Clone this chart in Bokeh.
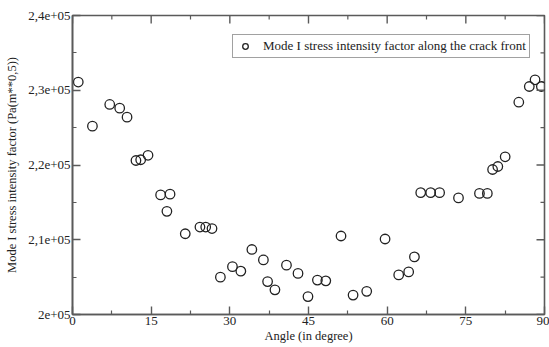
import math
from bokeh.plotting import figure
from bokeh.models import FixedTicker, Range1d, Legend, LegendItem, ColumnDataSource
from bokeh.embed import file_html
from bokeh.resources import INLINE

# Data
angle = [1.1, 3.8, 7.1, 9.0, 10.4, 12.1, 13.0, 14.4,
         16.8, 18.0, 18.6, 21.5, 24.3, 25.4, 26.6, 28.2, 30.5, 32.1, 34.2, 36.4, 37.2, 38.6, 40.8, 43.0, 44.9,
         46.7, 48.3, 51.2, 53.5, 56.1, 59.6, 62.2, 64.1, 65.2, 66.4, 68.3, 70.0, 73.6,
         77.6, 79.1, 80.1, 81.1, 82.5, 85.1, 87.1, 88.2, 89.4]
sif = [231100, 225200, 228100, 227600, 226400, 220600, 220700, 221300,
       216000, 213800, 216100, 210800, 211700, 211700, 211500, 205000, 206400, 205800, 208700, 207300, 204400, 203300, 206600, 205500, 202400,
       204600, 204500, 210500, 202600, 203100, 210100, 205300, 205700, 207700, 216300, 216300, 216300, 215600,
       216200, 216200, 219400, 219800, 221100, 228400, 230500, 231400, 230500]

x_ticks = [0, 15, 30, 45, 60, 75, 90]
x_minor = [7.5, 22.5, 37.5, 52.5, 67.5, 82.5]
y_ticks = [200000, 210000, 220000, 230000, 240000]
y_labels = ["2e+05", "2,1e+05", "2,2e+05", "2,3e+05", "2,4e+05"]
y_minor = [205000, 215000, 225000, 235000]

series_name = "Mode I stress intensity factor along the crack front"
x_title = "Angle (in degree)"
y_title = "Mode I stress intensity factor (Pa(m**0,5))"

FONT = "Liberation Serif"
AXIS_COLOR = "#5a5a5a"
TEXT_COLOR = "#222222"
MAJOR_LEN = 8
MINOR_LEN = 4

x0, x1 = x_ticks[0], x_ticks[-1]
y0, y1 = y_ticks[0], y_ticks[-1]

p = figure(width=549, height=347, output_backend="svg", toolbar_location=None,
           x_range=Range1d(x0, x1), y_range=Range1d(y0, y1),
           min_border_left=72, min_border_right=5, min_border_top=15, min_border_bottom=33,
           background_fill_color="white", border_fill_color="white")
p.outline_line_color = AXIS_COLOR
p.outline_line_width = 1.6
p.grid.visible = False

src = ColumnDataSource(data=dict(x=angle, y=sif))
r = p.scatter("x", "y", source=src, marker="circle", size=9.5, fill_color=None,
              line_color="#222222", line_width=1.3)

def style_axis(ax):
    ax.axis_line_color = AXIS_COLOR
    ax.axis_line_width = 1.6
    ax.major_tick_line_color = AXIS_COLOR
    ax.minor_tick_line_color = AXIS_COLOR
    ax.major_tick_line_width = 1.4
    ax.minor_tick_line_width = 1.2
    ax.major_tick_in = MAJOR_LEN
    ax.major_tick_out = 0
    ax.minor_tick_in = MINOR_LEN
    ax.minor_tick_out = 0
    ax.major_label_text_font = FONT
    ax.major_label_text_color = TEXT_COLOR
    ax.major_label_text_font_size = "13px"
    ax.major_label_standoff = 2
    ax.axis_label_text_font = FONT
    ax.axis_label_text_font_size = "12.5px"
    ax.axis_label_text_font_style = "normal"
    ax.axis_label_text_color = TEXT_COLOR

xb = p.xaxis[0]
xb.ticker = FixedTicker(ticks=x_ticks, minor_ticks=x_minor)
style_axis(xb)
xb.axis_label = x_title
xb.axis_label_standoff = 1

yl = p.yaxis[0]
yl.ticker = FixedTicker(ticks=y_ticks, minor_ticks=y_minor)
yl.major_label_overrides = {t: lab for t, lab in zip(y_ticks, y_labels)}
style_axis(yl)
yl.major_label_orientation = "horizontal"
yl.axis_label = y_title
yl.axis_label_standoff = 6

# Mirrored inward ticks on the top and right edges of the frame
tick_kw = dict(length_units="screen", line_color=AXIS_COLOR)
p.ray(x=x_ticks, y=[y1] * len(x_ticks), length=MAJOR_LEN, angle=-math.pi / 2, line_width=1.4, **tick_kw)
p.ray(x=x_minor, y=[y1] * len(x_minor), length=MINOR_LEN, angle=-math.pi / 2, line_width=1.2, **tick_kw)
p.ray(x=[x1] * len(y_ticks), y=y_ticks, length=MAJOR_LEN, angle=math.pi, line_width=1.4, **tick_kw)
p.ray(x=[x1] * len(y_minor), y=y_minor, length=MINOR_LEN, angle=math.pi, line_width=1.2, **tick_kw)

legend = Legend(items=[LegendItem(label=series_name, renderers=[r])],
                location=(160, 256), margin=0)
legend.label_text_font = FONT
legend.label_text_font_size = "13px"
legend.label_text_color = TEXT_COLOR
legend.border_line_color = "#444444"
legend.border_line_width = 1.3
legend.padding = 3
legend.spacing = 0
legend.glyph_width = 18
legend.glyph_height = 14
legend.label_standoff = 9
legend.label_height = 14
legend.background_fill_alpha = 1
p.add_layout(legend)

open("out.html", "w").write(file_html(p, INLINE))
